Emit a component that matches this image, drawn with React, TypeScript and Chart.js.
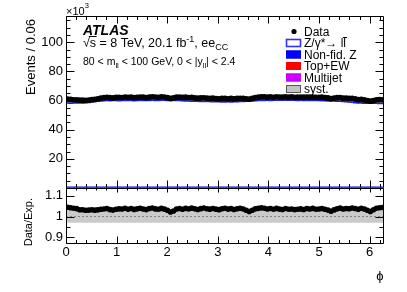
import React, { useEffect, useRef } from "react";
import { Chart, registerables } from "chart.js";

Chart.register(...registerables);

// ---------------- data (events in units of 10^3) ----------------
const NBINS = 105;
const PHI_MAX = 2 * Math.PI;

const expTotal = [
  58.3, 58.3, 58.2, 58.3, 58.4, 58.3, 58.4, 58.5, 58.7,
  59.0, 59.3, 59.6, 59.8,
  59.9, 60.0, 59.9, 60.0, 60.0, 59.9, 60.0, 60.1, 60.0, 60.0, 59.9, 60.0, 60.1, 60.0, 60.0, 60.1, 60.2, 60.1, 60.1, 60.2, 60.2, 60.1, 60.2,
  60.1, 60.0, 60.0, 59.9, 59.8, 59.7, 59.6, 59.6, 59.5, 59.4, 59.4, 59.3, 59.3, 59.2, 59.2,
  59.2, 59.1, 59.1, 59.2, 59.1, 59.2, 59.2, 59.3, 59.4, 59.5, 59.7, 59.8,
  59.9, 60.0, 60.1, 60.1, 60.2, 60.1, 60.2, 60.2, 60.3, 60.2, 60.2, 60.3, 60.2, 60.2, 60.1, 60.2, 60.1, 60.1, 60.0, 60.1, 60.0, 60.0, 59.9, 59.9, 59.8, 59.8, 59.7, 59.6, 59.5, 59.4,
  59.2, 59.0, 58.8, 58.6, 58.4, 58.3, 58.2, 58.2, 58.1, 58.2, 58.1, 58.0,
];

const dataObs = [
  60.9, 60.75, 60.5, 60.5, 60.3, 60.2, 60.15, 60.3, 60.6,
  60.8, 61.2, 61.7, 61.95,
  62.2, 62.0, 61.75, 62.1, 62.2, 62.05, 62.4, 62.2, 62.3, 62.05, 62.1, 62.4, 62.25, 62.0, 62.3, 62.55, 62.4, 62.2, 62.45, 62.35, 62.0, 61.4, 61.8,
  62.25, 62.3, 62.1, 62.25, 61.95, 62.1, 61.8, 61.6, 61.75, 61.85, 61.6, 61.4, 61.6, 61.3, 61.15,
  61.4, 61.45, 61.2, 61.45, 61.1, 61.4, 61.55, 61.45, 61.2, 60.95, 61.5, 62.0,
  62.25, 62.5, 62.5, 62.25, 62.5, 62.2, 62.55, 62.35, 62.35, 62.5, 62.3, 62.5, 62.2, 62.3, 62.3, 62.25, 62.4, 62.25, 62.35, 62.2, 62.15, 62.3, 62.0, 61.75, 61.3, 61.7, 61.9, 62.0, 61.65, 61.7,
  61.4, 61.4, 61.05, 60.65, 60.7, 60.4, 59.95, 59.6, 60.0, 60.5, 60.55, 60.5,
];

const multijet = 0.06;
const topEW = 0.12;
const nonFidZ = 0.25;
const systUp = 1.03;
const systDown = 0.97;

const mainYTicks = [20, 40, 60, 80, 100];
const ratioYTicks = [0.9, 1, 1.1];
const xTicks = [0, 1, 2, 3, 4, 5, 6];

const legendLabels = ["Data", "Z/\u03b3*\u2192 ll", "Non-fid. Z", "Top+EW", "Multijet", "syst."];

// ---------------- style ----------------
const FONT = "'Liberation Sans', Arial, Helvetica, sans-serif";
const Z_BLUE = "#1f1fe0";
const NONFID_BLUE = "#0000ff";
const TOP_RED = "#ff0000";
const MJ_MAGENTA = "#cc00ff";
const SYST_GRAY = "#cacaca";

const edge = (i: number) => (i * PHI_MAX) / NBINS;
const center = (i: number) => ((i + 0.5) * PHI_MAX) / NBINS;

function stepPoints(vals: number[]) {
  const pts = vals.map((v, i) => ({ x: edge(i), y: v }));
  pts.push({ x: PHI_MAX, y: vals[vals.length - 1] });
  return pts;
}

function flat(v: number) {
  return [
    { x: 0, y: v },
    { x: PHI_MAX, y: v },
  ];
}

function rangeSteps(min: number, max: number, step: number) {
  const out: number[] = [];
  const n = Math.floor((max - min) / step + 1e-6);
  for (let k = 0; k <= n; k++) out.push(+(min + k * step).toFixed(6));
  return out;
}

type TickCfg = {
  xMajor: number[];
  xMinorStep: number;
  yMajor: number[];
  yMinorStep: number;
  xMajLenBottom: number;
  xMajLenTop: number;
  yMajLen: number;
  bottomLine: boolean;
};

function frameTicks(cfg: TickCfg) {
  return {
    id: "frameTicks",
    afterDatasetsDraw(chart: any) {
      const { ctx, chartArea: a, scales } = chart;
      const sx = scales.x;
      const sy = scales.y;
      ctx.save();
      ctx.strokeStyle = "#000";
      ctx.lineWidth = 1;
      ctx.beginPath();
      const L = a.left + 0.5, R = a.right - 0.5, T = a.top + 0.5, B = a.bottom - 0.5;
      ctx.moveTo(L, B); ctx.lineTo(L, T); ctx.lineTo(R, T); ctx.lineTo(R, B);
      if (cfg.bottomLine) ctx.lineTo(L, B);
      const xDraw = (v: number, lb: number, lt: number) => {
        const px = Math.round(sx.getPixelForValue(v)) + 0.5;
        if (px < a.left || px > a.right) return;
        ctx.moveTo(px, B); ctx.lineTo(px, B - lb);
        ctx.moveTo(px, T); ctx.lineTo(px, T + lt);
      };
      const yDraw = (v: number, l: number) => {
        const py = Math.round(sy.getPixelForValue(v)) + 0.5;
        if (py < a.top || py > a.bottom) return;
        ctx.moveTo(L, py); ctx.lineTo(L + l, py);
        ctx.moveTo(R, py); ctx.lineTo(R - l, py);
      };
      rangeSteps(sx.min, sx.max, cfg.xMinorStep).forEach((v) => xDraw(v, cfg.xMajLenBottom / 2, cfg.xMajLenTop / 2));
      cfg.xMajor.forEach((v) => xDraw(v, cfg.xMajLenBottom, cfg.xMajLenTop));
      const y0 = Math.ceil(sy.min / cfg.yMinorStep - 1e-6) * cfg.yMinorStep;
      rangeSteps(y0, sy.max, cfg.yMinorStep).forEach((v) => yDraw(v, cfg.yMajLen / 2));
      cfg.yMajor.forEach((v) => yDraw(v, cfg.yMajLen));
      ctx.stroke();
      ctx.restore();
    },
  };
}

const mainText = {
  id: "mainText",
  afterDraw(chart: any) {
    const ctx = chart.ctx as CanvasRenderingContext2D;
    ctx.save();
    ctx.fillStyle = "#000";
    ctx.textBaseline = "alphabetic";
    ctx.textAlign = "left";

    // x10^3
    ctx.font = `11px ${FONT}`;
    ctx.fillText("\u00d710", 66, 15);
    const w10 = ctx.measureText("\u00d710").width;
    ctx.font = `7.5px ${FONT}`;
    ctx.fillText("3", 66 + w10, 8);

    // ATLAS
    ctx.font = `italic bold 14px ${FONT}`;
    ctx.fillText("ATLAS", 83, 35);

    // sqrt(s) line
    let cx = 83;
    const by = 47;
    ctx.font = `12.5px ${FONT}`;
    ctx.fillText("\u221a", cx, by);
    const mr = ctx.measureText("\u221a");
    const wr = mr.width;
    const topR = by - (mr.actualBoundingBoxAscent || 10);
    ctx.fillText("s", cx + wr, by);
    const ws = ctx.measureText("s").width;
    ctx.strokeStyle = "#000";
    ctx.lineWidth = 1;
    ctx.beginPath();
    ctx.moveTo(cx + wr - 1, topR + 0.5);
    ctx.lineTo(cx + wr + ws + 0.5, topR + 0.5);
    ctx.stroke();
    cx += wr + ws;
    const t1 = " = 8 TeV, 20.1 fb";
    ctx.fillText(t1, cx, by);
    cx += ctx.measureText(t1).width;
    ctx.font = `9px ${FONT}`;
    ctx.fillText("-1", cx, by - 5);
    cx += ctx.measureText("-1").width;
    ctx.font = `12.5px ${FONT}`;
    ctx.fillText(", ee", cx, by);
    cx += ctx.measureText(", ee").width;
    ctx.font = `9px ${FONT}`;
    ctx.fillText("CC", cx, by + 3);

    // selection line
    cx = 83;
    const by3 = 65;
    const parts: [string, boolean][] = [
      ["80 < m", false], ["ll", true], [" < 100 GeV, 0 < |y", false], ["ll", true], ["| < 2.4", false],
    ];
    parts.forEach(([s, sub]) => {
      ctx.font = sub ? `7.5px ${FONT}` : `10.5px ${FONT}`;
      ctx.fillText(s, cx, sub ? by3 + 2.5 : by3);
      cx += ctx.measureText(s).width;
    });

    // y title
    ctx.save();
    ctx.translate(34.5, 19);
    ctx.rotate(-Math.PI / 2);
    ctx.textAlign = "right";
    ctx.font = `13px ${FONT}`;
    ctx.fillText("Events / 0.06", 0, 0);
    ctx.restore();

    // legend
    const rows = [31.5, 43, 54.5, 66, 77.5, 89];
    const bx = 286, bw = 15, bh = 8, tx = 304;
    ctx.font = `12px ${FONT}`;
    legendLabels.forEach((lab, k) => {
      const cy = rows[k];
      ctx.fillStyle = "#000";
      ctx.fillText(lab, tx, cy + 4.3);
      if (k === 1) {
        const wAll = ctx.measureText(lab).width;
        const wl = ctx.measureText("l").width;
        ctx.strokeStyle = "#000";
        ctx.lineWidth = 1;
        ctx.beginPath();
        ctx.moveTo(tx + wAll - wl - 0.5, cy - 5.5);
        ctx.lineTo(tx + wAll + 1, cy - 5.5);
        ctx.stroke();
      }
    });
    // markers
    ctx.fillStyle = "#000";
    ctx.beginPath();
    ctx.arc(294, rows[0], 2.6, 0, Math.PI * 2);
    ctx.fill();
    const box = (k: number, fill: string, stroke: string, lw: number) => {
      const y = rows[k] - bh / 2;
      ctx.fillStyle = fill;
      ctx.fillRect(bx, y, bw, bh);
      ctx.strokeStyle = stroke;
      ctx.lineWidth = lw;
      ctx.strokeRect(bx + 0.5, y + 0.5, bw - 1, bh - 1);
    };
    box(1, "#ffffff", "#3030ff", 1.6);
    box(2, NONFID_BLUE, NONFID_BLUE, 1);
    box(3, TOP_RED, TOP_RED, 1);
    box(4, MJ_MAGENTA, MJ_MAGENTA, 1);
    box(5, "#c4c4c4", "#555555", 1);
    ctx.restore();
  },
};

const ratioText = {
  id: "ratioText",
  afterDraw(chart: any) {
    const ctx = chart.ctx as CanvasRenderingContext2D;
    ctx.save();
    ctx.fillStyle = "#000";
    ctx.save();
    ctx.translate(31.5, 198);
    ctx.rotate(-Math.PI / 2);
    ctx.textAlign = "right";
    ctx.font = `11px ${FONT}`;
    ctx.fillText("Data/Exp.", 0, 0);
    ctx.restore();
    ctx.font = `13px ${FONT}`;
    ctx.textAlign = "center";
    ctx.fillText("\u03d5", 380, 280);
    ctx.restore();
  },
};

function yAxis(min: number, max: number, ticks: number[]) {
  return {
    type: "linear" as const,
    min,
    max,
    display: true,
    grid: { display: false, drawTicks: false },
    border: { display: false },
    ticks: {
      color: "#000",
      font: { family: FONT, size: 13 },
      padding: 3,
      autoSkip: false,
      callback: (v: any) => String(v),
    },
    afterBuildTicks: (s: any) => {
      s.ticks = ticks.map((v) => ({ value: v }));
    },
    afterFit: (s: any) => {
      s.width = 66;
      s.paddingTop = 0;
      s.paddingBottom = 0;
    },
  };
}

export default function App() {
  const mainRef = useRef<HTMLCanvasElement>(null);
  const ratioRef = useRef<HTMLCanvasElement>(null);

  useEffect(() => {
    const zLine = stepPoints(expTotal);
    zLine.push({ x: PHI_MAX, y: 0 });

    const main = new Chart(mainRef.current as HTMLCanvasElement, {
      type: "line",
      data: {
        datasets: [
          {
            label: "Z",
            data: zLine,
            stepped: "after",
            borderColor: Z_BLUE,
            borderWidth: 1.6,
            backgroundColor: "#ffffff",
            fill: "origin",
            pointRadius: 0,
            order: 10,
          },
          {
            label: "Non-fid. Z",
            data: flat(multijet + topEW + nonFidZ),
            borderColor: NONFID_BLUE,
            borderWidth: 1.5,
            backgroundColor: NONFID_BLUE,
            fill: "origin",
            pointRadius: 0,
            order: 9,
          },
          {
            label: "Top+EW",
            data: flat(multijet + topEW),
            borderColor: TOP_RED,
            borderWidth: 1.5,
            backgroundColor: TOP_RED,
            fill: "origin",
            pointRadius: 0,
            order: 8,
          },
          {
            label: "Multijet",
            data: flat(multijet),
            borderColor: MJ_MAGENTA,
            borderWidth: 1.5,
            backgroundColor: MJ_MAGENTA,
            fill: "origin",
            pointRadius: 0,
            order: 7,
          },
          {
            label: "Data",
            data: dataObs.map((v, i) => ({ x: center(i), y: v })),
            showLine: false,
            pointRadius: 2.9,
            pointBorderWidth: 0,
            pointBackgroundColor: "#000",
            borderColor: "#000",
            order: 0,
          },
        ],
      },
      options: {
        responsive: false,
        devicePixelRatio: 1,
        animation: false,
        events: [],
        layout: { padding: { left: 0, right: 23, top: 16, bottom: 104 } },
        plugins: { legend: { display: false }, tooltip: { enabled: false } },
        scales: {
          x: { type: "linear", min: 0, max: PHI_MAX, display: false },
          y: yAxis(0, 118, mainYTicks),
        },
      },
      plugins: [
        frameTicks({ xMajor: xTicks, xMinorStep: 0.2, yMajor: mainYTicks, yMinorStep: 5, xMajLenBottom: 7, xMajLenTop: 7, yMajLen: 8, bottomLine: false }),
        mainText,
      ],
    } as any);

    const ratio = new Chart(ratioRef.current as HTMLCanvasElement, {
      type: "line",
      data: {
        datasets: [
          {
            label: "syst",
            data: flat(systUp),
            borderWidth: 0,
            backgroundColor: SYST_GRAY,
            fill: { value: systDown },
            pointRadius: 0,
            order: 10,
          },
          {
            label: "one",
            data: flat(1),
            borderColor: "#808080",
            borderWidth: 1,
            borderDash: [2, 2],
            fill: false,
            pointRadius: 0,
            order: 5,
          },
          {
            label: "Data/Exp.",
            data: dataObs.map((v, i) => ({ x: center(i), y: v / expTotal[i] })),
            showLine: false,
            pointRadius: 2.8,
            pointBorderWidth: 0,
            pointBackgroundColor: "#000",
            borderColor: "#000",
            order: 0,
          },
        ],
      },
      options: {
        responsive: false,
        devicePixelRatio: 1,
        animation: false,
        events: [],
        layout: { padding: { left: 0, right: 23, top: 188, bottom: 0 } },
        plugins: { legend: { display: false }, tooltip: { enabled: false } },
        scales: {
          x: {
            type: "linear",
            min: 0,
            max: PHI_MAX,
            display: true,
            grid: { display: false, drawTicks: false },
            border: { display: false },
            ticks: {
              color: "#000",
              font: { family: FONT, size: 13 },
              padding: 1,
              autoSkip: false,
              maxRotation: 0,
              callback: (v: any) => String(v),
            },
            afterBuildTicks: (s: any) => {
              s.ticks = xTicks.map((v) => ({ value: v }));
            },
            afterFit: (s: any) => {
              s.height = 48;
              s.paddingLeft = 0;
              s.paddingRight = 0;
            },
          },
          y: yAxis(0.868, 1.137, ratioYTicks),
        },
      },
      plugins: [
        frameTicks({ xMajor: xTicks, xMinorStep: 0.2, yMajor: ratioYTicks, yMinorStep: 0.05, xMajLenBottom: 7, xMajLenTop: 4, yMajLen: 8, bottomLine: true }),
        ratioText,
      ],
    } as any);

    return () => {
      main.destroy();
      ratio.destroy();
    };
  }, []);

  return (
    <div style={{ position: "fixed", left: 0, top: 0, width: 407, height: 292, background: "#ffffff" }}>
      <canvas ref={ratioRef} width={407} height={292} style={{ position: "absolute", left: 0, top: 0 }} />
      <canvas ref={mainRef} width={407} height={292} style={{ position: "absolute", left: 0, top: 0 }} />
    </div>
  );
}
